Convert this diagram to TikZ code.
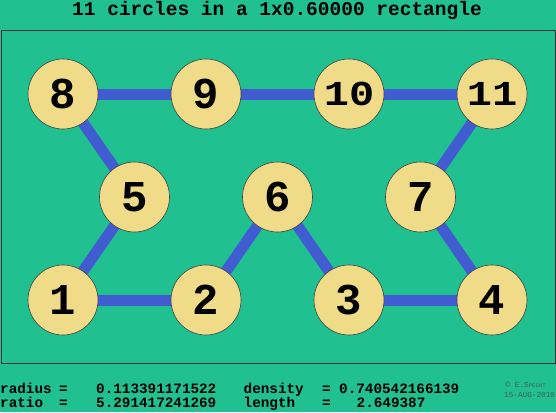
\documentclass[tikz,border=0pt]{standalone}
\usepackage{fontspec}
\setmonofont{Liberation Mono}
\usetikzlibrary{backgrounds}

\definecolor{tablegreen}{RGB}{32,192,144}
\definecolor{linkblue}{RGB}{64,92,208}
\definecolor{discyellow}{RGB}{240,220,136}
\definecolor{creditgray}{RGB}{70,90,84}

\begin{document}
\begin{tikzpicture}[x=1pt, y=-1pt,
    disc/.style={circle, draw=black!75, line width=0.6pt, fill=discyellow, minimum size=70pt, inner sep=0pt, font=\ttfamily\bfseries\fontsize{44}{44}\selectfont},
    bigdisc/.style={disc, font=\ttfamily\bfseries\fontsize{35}{35}\selectfont},
    link/.style={linkblue, line width=11pt},
    info/.style={anchor=base west, inner sep=0pt, font=\ttfamily\bfseries\fontsize{14.3}{14.3}\selectfont},
    credit/.style={anchor=base west, inner sep=0pt, text=creditgray, font=\ttfamily\fontsize{7.7}{7.7}\selectfont}]

    % Page size
    \useasboundingbox (0,0) rectangle (556,412);

    % Title
    \node[anchor=base, inner sep=0pt, font=\ttfamily\bfseries\fontsize{19.5}{19.5}\selectfont] (title) at (277,15.5) {11 circles in a 1x0.60000 rectangle};

    % Draw the rectangle
    \draw[black!80, line width=0.8pt] (1,30) rectangle (555,363);

    % Circles
    \foreach \n/\x/\y in {1/63/300, 2/206/300, 3/349/300, 4/492/300, 5/134.5/197, 6/277.5/197, 7/420.5/197, 8/63/94, 9/206/94}
        \node[disc] (c\n) at (\x,\y) {\n};
    \foreach \n/\x in {10/349, 11/492}
        \node[bigdisc] (c\n) at (\x,94) {\scalebox{1.2}[1]{\n}};

    % Contacts behind the circles
    \begin{pgfonlayer}{background}
        \fill[tablegreen] (0,0) rectangle (556,412);
        \foreach \a/\b in {8/9, 9/10, 10/11, 8/5, 5/1, 1/2, 2/6, 6/3, 3/4, 4/7, 7/11}
            \draw[link] (c\a.center) -- (c\b.center);
    \end{pgfonlayer}

    % Values
    \node[info] (radiuslabel) at (0,393.5) {radius};
    \node[info] (radiuseq) at (59,393.5) {=};
    \node[info] (radiusval) at (96,393.5) {0.113391171522};
    \node[info] (densitylabel) at (243.5,393.5) {density};
    \node[info] (densityeq) at (322,393.5) {=};
    \node[info] (densityval) at (339,393.5) {0.740542166139};
    \node[info] (ratiolabel) at (0,407.5) {ratio};
    \node[info] (ratioeq) at (59,407.5) {=};
    \node[info] (ratioval) at (96,407.5) {5.291417241269};
    \node[info] (lengthlabel) at (243.5,407.5) {length};
    \node[info] (lengtheq) at (322,407.5) {=};
    \node[info] (lengthval) at (356.5,407.5) {2.649387};

    % Credit
    \node[credit] (author) at (505.5,387) {© E.S{\fontsize{5.6}{5.6}\selectfont PECHT}};
    \node[credit] (date) at (504,397) {15-AUG-2010};
\end{tikzpicture}
\end{document}
